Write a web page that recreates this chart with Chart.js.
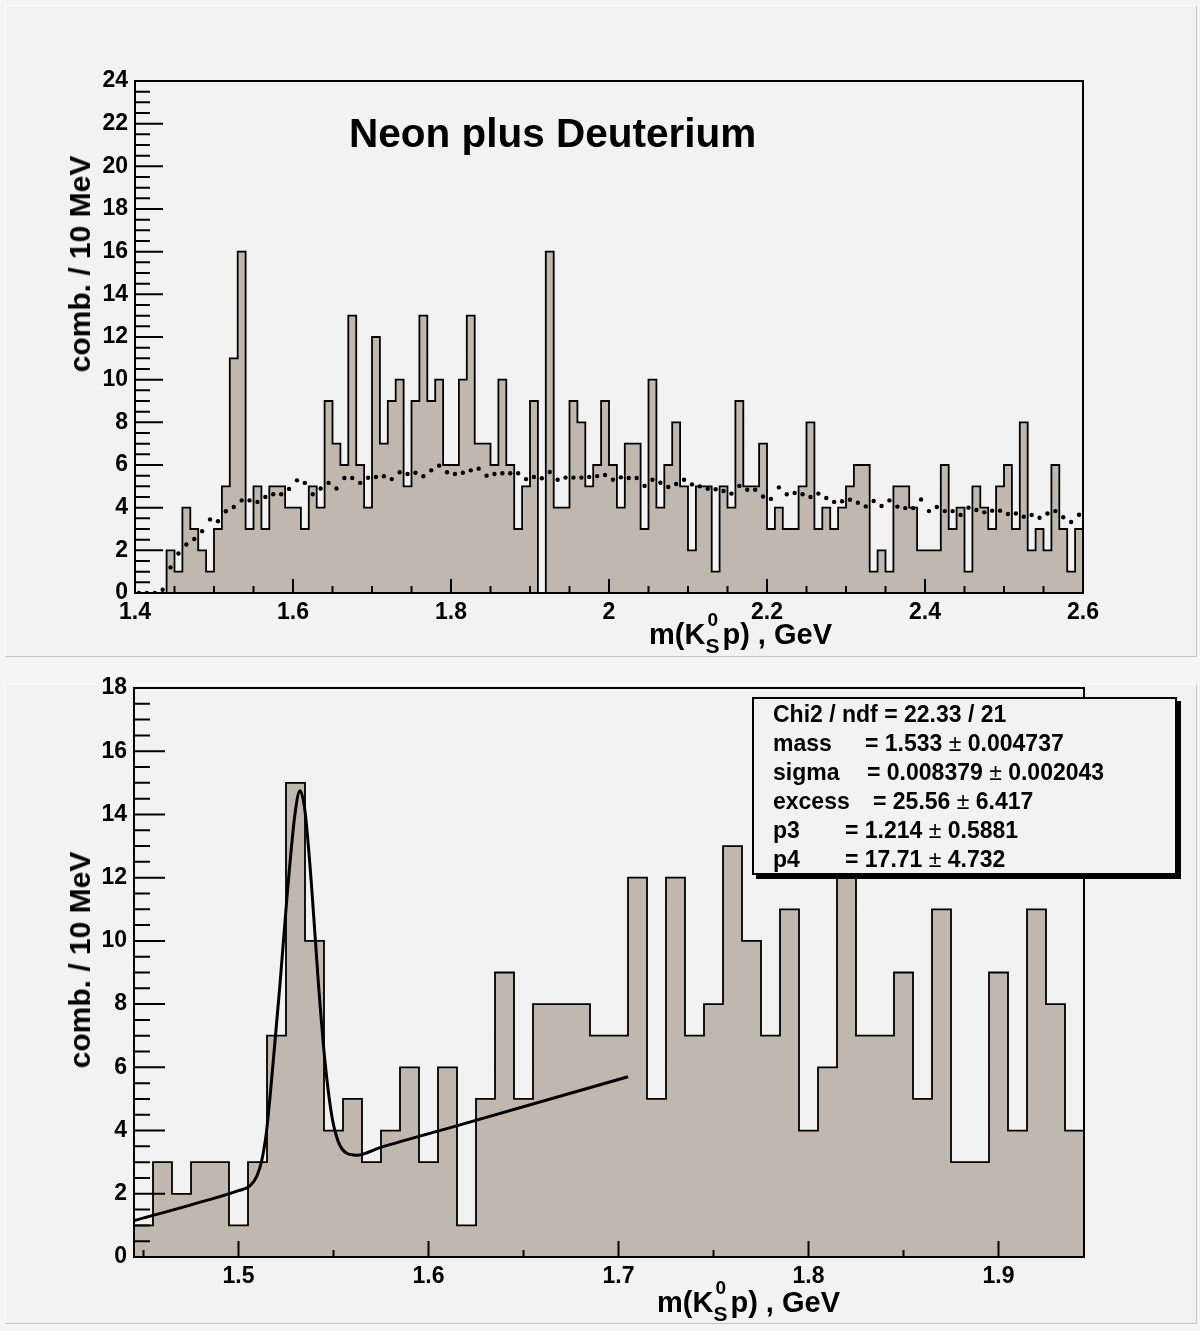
<!DOCTYPE html>
<html>
<head>
<meta charset="utf-8">
<script src="https://cdn.jsdelivr.net/npm/chart.js@4.4.1/dist/chart.umd.min.js"></script>
<style>
body { margin: 0; background: #f5f5f5; font-family: "Liberation Sans", Arial, sans-serif; font-weight: bold; color: #000; }
#page { position: relative; width: 1200px; height: 1331px; overflow: hidden; }
canvas { position: absolute; left: 0; }
.pad { position: absolute; box-sizing: border-box; background: #f2f2f2; border: 1px solid; border-color: #fff #c6c6c6 #c6c6c6 #fff; }
.txt { position: absolute; line-height: 1; white-space: nowrap; }
.yt { font-size: 30px; transform: translate(-50%, -50%) rotate(-90deg); }
.xt { font-size: 29px; }
.ss { display: inline-block; position: relative; width: 17px; height: 10px; }
.ss .sup { position: absolute; left: 2px; bottom: 15px; font-size: 19px; line-height: 1; }
.ss .sub { position: absolute; left: 0; bottom: -12px; font-size: 21px; line-height: 1; }
#stats { position: absolute; left: 752px; top: 697px; width: 425px; height: 178px; box-sizing: border-box; border: 2px solid #000; background: #f2f2f2; box-shadow: 4px 4px 0 #000; }
.st { font-size: 23px; }
.pm { font-weight: normal; }
</style>
</head>
<body>
<div id="page">
  <div class="pad" style="left:5px;top:5px;width:1192px;height:652px"></div>
  <div class="pad" style="left:5px;top:684px;width:1192px;height:640px"></div>
  <canvas id="topChart" width="1200" height="656" style="top:0"></canvas>
  <canvas id="bottomChart" width="1200" height="675" style="top:656px"></canvas>

  <div class="txt" style="left:349px;top:113px;font-size:40.5px">Neon plus Deuterium</div>

  <div class="txt yt" style="left:80px;top:264px">comb. / 10 MeV</div>
  <div class="txt yt" style="left:80px;top:960px">comb. / 10 MeV</div>

  <div class="txt xt" style="right:368px;top:620px">m(K<span class="ss"><span class="sup">0</span><span class="sub">S</span></span>p) , GeV</div>
  <div class="txt xt" style="right:360px;top:1288px">m(K<span class="ss"><span class="sup">0</span><span class="sub">S</span></span>p) , GeV</div>

  <div id="stats"></div>
  <div class="txt st" style="left:773px;top:703px">Chi2 / ndf = 22.33 / 21</div>
  <div class="txt st" style="left:773px;top:732px">mass</div>
  <div class="txt st" style="left:865px;top:732px">= 1.533 <span class="pm">±</span> 0.004737</div>
  <div class="txt st" style="left:773px;top:761px">sigma</div>
  <div class="txt st" style="left:867px;top:761px">= 0.008379 <span class="pm">±</span> 0.002043</div>
  <div class="txt st" style="left:773px;top:790px">excess</div>
  <div class="txt st" style="left:873px;top:790px">= 25.56 <span class="pm">±</span> 6.417</div>
  <div class="txt st" style="left:773px;top:819px">p3</div>
  <div class="txt st" style="left:845px;top:819px">= 1.214 <span class="pm">±</span> 0.5881</div>
  <div class="txt st" style="left:773px;top:848px">p4</div>
  <div class="txt st" style="left:845px;top:848px">= 17.71 <span class="pm">±</span> 4.732</div>
</div>
<script>
// top panel: 10 MeV bins from 1.40 to 2.60
const topStart = 1.4
const topCounts = [0, 0, 0, 0, 2, 1, 4, 3, 2, 1,
  3, 5, 11, 16, 3, 5, 3, 5, 5, 4,
  4, 3, 5, 4, 9, 7, 6, 13, 6, 4,
  12, 7, 9, 10, 5, 9, 13, 9, 10, 6,
  6, 10, 13, 7, 7, 6, 10, 6, 3, 5,
  9, 0, 16, 4, 4, 9, 8, 5, 6, 9,
  6, 4, 7, 7, 3, 10, 4, 6, 8, 5,
  2, 5, 5, 1, 5, 4, 9, 5, 5, 7,
  3, 4, 3, 3, 5, 8, 3, 4, 3, 4,
  5, 6, 6, 1, 2, 1, 5, 5, 4, 2,
  2, 2, 6, 3, 4, 1, 5, 4, 3, 5,
  6, 3, 8, 2, 3, 2, 6, 3, 1, 3]
// dotted background estimate, one value per bin
const topBackground = [0, 0, 0, 0.15, 1.2, 1.85, 2.27, 2.53, 2.9, 3.45,
  3.36, 3.83, 4.03, 4.34, 4.34, 4.27, 4.5, 4.63, 4.63, 4.88,
  5.28, 5.16, 4.63, 4.9, 5.16, 4.9, 5.39, 5.39, 5.16, 5.4,
  5.44, 5.47, 5.34, 5.66, 5.58, 5.64, 5.47, 5.75, 5.97, 5.66,
  5.58, 5.64, 5.75, 5.83, 5.5, 5.58, 5.61, 5.61, 5.61, 5.34,
  5.44, 5.38, 5.67, 5.31, 5.41, 5.41, 5.41, 5.44, 5.48, 5.53,
  5.31, 5.42, 5.39, 5.39, 5.02, 5.31, 5.17, 4.97, 5.11, 5.31,
  5.09, 5.0, 4.89, 4.86, 4.78, 4.66, 5.02, 4.84, 4.84, 4.52,
  4.41, 4.95, 4.63, 4.69, 4.63, 4.5, 4.66, 4.45, 4.27, 4.3,
  4.37, 4.23, 4.06, 4.31, 4.08, 4.34, 4.05, 3.98, 3.98, 4.38,
  3.84, 4.03, 3.84, 3.84, 3.66, 4.0, 3.89, 3.78, 3.86, 3.86,
  3.7, 3.73, 3.58, 3.66, 3.53, 3.73, 3.84, 3.55, 3.33, 3.67]
const topXTicks = [1.4, 1.6, 1.8, 2, 2.2, 2.4, 2.6]
const topYTicks = [0, 2, 4, 6, 8, 10, 12, 14, 16, 18, 20, 22, 24]

// bottom panel: 10 MeV bins from 1.445 to 1.945
const bottomStart = 1.445
const bottomCounts = [1, 3, 2, 3, 3, 1, 3, 7, 15, 10,
  4, 5, 3, 4, 6, 3, 6, 1, 5, 9,
  5, 8, 8, 8, 7, 7, 12, 5, 12, 7,
  8, 13, 10, 7, 11, 4, 6, 13, 7, 7,
  9, 5, 11, 3, 3, 9, 4, 11, 8, 4]
// fit curve
const fitMass = [1.445, 1.475, 1.5, 1.506, 1.5096, 1.5122, 1.5148, 1.5183, 1.5218, 1.5254, 1.5297, 1.5324,
  1.535, 1.5385, 1.542, 1.5455, 1.549, 1.5525, 1.557, 1.5622, 1.5745, 1.6166, 1.705]
const fitCurve = [1.15, 1.65, 2.1, 2.25, 2.55, 3.04, 4.0, 6.2, 8.6, 11.3, 14.0, 14.75,
  14.1, 11.7, 8.7, 6.2, 4.5, 3.65, 3.28, 3.22, 3.46, 4.18, 5.7]
const bottomXTicks = [1.5, 1.6, 1.7, 1.8, 1.9]
const bottomYTicks = [0, 2, 4, 6, 8, 10, 12, 14, 16, 18]

const binWidth = 0.01
const fillColor = "#c0b8af"

Chart.defaults.font.family = '"Liberation Sans", Arial, sans-serif'
Chart.defaults.font.weight = "bold"
Chart.defaults.font.size = 23
Chart.defaults.color = "#000"

function histPoints(start, counts) {
  const pts = [{ x: start, y: 0 }]
  counts.forEach((c, i) => pts.push({ x: start + i * binWidth, y: c }))
  const end = start + counts.length * binWidth
  pts.push({ x: end, y: counts[counts.length - 1] })
  pts.push({ x: end, y: 0 })
  return pts
}

// ROOT style frame with ticks pointing into the plot
const rootAxes = {
  id: "rootAxes",
  afterDatasetsDraw(chart, args, opts) {
    const ctx = chart.ctx
    const a = chart.chartArea
    const xs = chart.scales.x
    const ys = chart.scales.y
    ctx.save()
    ctx.strokeStyle = "#000"
    ctx.lineWidth = 2
    ctx.beginPath()
    opts.xMarks.forEach(([step, len]) => {
      for (let k = Math.ceil(xs.min / step - 1e-6); k * step <= xs.max + 1e-6; k++) {
        const px = xs.getPixelForValue(k * step)
        ctx.moveTo(px, a.bottom)
        ctx.lineTo(px, a.bottom - len)
      }
    })
    opts.yMarks.forEach(([step, len]) => {
      for (let k = Math.ceil(ys.min / step - 1e-6); k * step <= ys.max + 1e-6; k++) {
        const py = ys.getPixelForValue(k * step)
        ctx.moveTo(a.left, py)
        ctx.lineTo(a.left + len, py)
      }
    })
    ctx.stroke()
    ctx.strokeRect(a.left, a.top, a.right - a.left, a.bottom - a.top)
    ctx.restore()
  }
}

const fmt = v => String(Math.round(v * 100) / 100)

function scales(xMin, xMax, xTicks, yMax, yTicks, yWidth, xHeight) {
  return {
    x: {
      type: "linear", min: xMin, max: xMax,
      grid: { display: false, drawTicks: false }, border: { display: false },
      ticks: { autoSkip: false, maxRotation: 0, padding: 6, callback: fmt },
      afterBuildTicks: s => { s.ticks = xTicks.map(v => ({ value: v })) },
      afterFit: s => { s.height = xHeight }
    },
    y: {
      min: 0, max: yMax,
      grid: { display: false, drawTicks: false }, border: { display: false },
      ticks: { autoSkip: false, padding: 7, callback: fmt },
      afterBuildTicks: s => { s.ticks = yTicks.map(v => ({ value: v })) },
      afterFit: s => { s.width = yWidth }
    }
  }
}

const topChart = new Chart(document.getElementById("topChart"), {
  type: "line",
  data: {
    datasets: [
      {
        data: histPoints(topStart, topCounts), stepped: true, fill: "origin",
        backgroundColor: fillColor, borderColor: "#000", borderWidth: 1.8, pointRadius: 0, order: 3
      },
      {
        data: topBackground.map((v, i) => ({ x: topStart + (i + 0.5) * binWidth, y: v })),
        showLine: false, pointRadius: 2.2, pointBackgroundColor: "#000", pointBorderWidth: 0, order: 1
      }
    ]
  },
  options: {
    responsive: false, animation: false, events: [],
    layout: { padding: { left: 0, right: 117, top: 81, bottom: 0 } },
    scales: scales(1.4, 2.6, topXTicks, 24, topYTicks, 135, 63),
    plugins: {
      legend: { display: false }, tooltip: { enabled: false },
      rootAxes: { xMarks: [[0.05, 7], [0.2, 14]], yMarks: [[0.5, 15], [2, 28]] }
    }
  },
  plugins: [rootAxes]
})

const bottomChart = new Chart(document.getElementById("bottomChart"), {
  type: "line",
  data: {
    datasets: [
      {
        data: histPoints(bottomStart, bottomCounts), stepped: true, fill: "origin",
        backgroundColor: fillColor, borderColor: "#000", borderWidth: 1.8, pointRadius: 0, order: 3
      },
      {
        data: fitMass.map((m, i) => ({ x: m, y: fitCurve[i] })),
        borderColor: "#000", borderWidth: 3, pointRadius: 0, fill: false,
        cubicInterpolationMode: "monotone", order: 1
      }
    ]
  },
  options: {
    responsive: false, animation: false, events: [],
    layout: { padding: { left: 0, right: 116, top: 32, bottom: 0 } },
    scales: scales(1.445, 1.945, bottomXTicks, 18, bottomYTicks, 134, 74),
    plugins: {
      legend: { display: false }, tooltip: { enabled: false },
      rootAxes: { xMarks: [[0.05, 7], [0.1, 16]], yMarks: [[0.5, 16], [2, 31]] }
    }
  },
  plugins: [rootAxes]
})
</script>
</body>
</html>
